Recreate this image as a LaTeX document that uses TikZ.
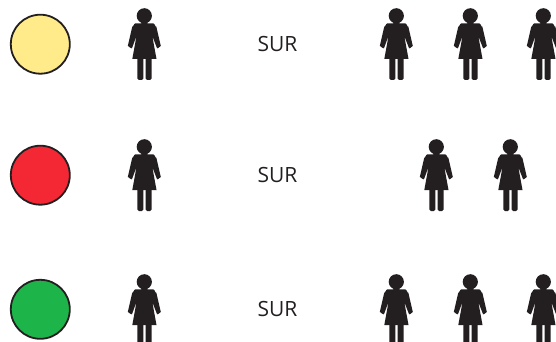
\documentclass[tikz,border=0pt]{standalone}
\usepackage{fontspec}
\setmainfont{Open Sans}
\usepackage{xcolor}
\usetikzlibrary{positioning}
\definecolor{inkblack}{HTML}{231F20}
\definecolor{dotyellow}{HTML}{FFEB8A}
\definecolor{dotred}{HTML}{F42735}
\definecolor{dotgreen}{HTML}{1DB54A}

\begin{document}
\begin{tikzpicture}[x=1pt,y=-1pt,
    dot/.style={draw=inkblack, line width=1.8pt, circle, inner sep=0pt, minimum size=59pt},
    label/.style={text=inkblack, font=\fontsize{21}{23}\selectfont, inner sep=0pt},
    woman/.pic={
        \fill[inkblack] (0,15.8) circle (7.6);
        % dress with arms
        \fill[inkblack] (-3,22) -- (3,22) -- (3,23.4) -- (9,23.4) to[out=0,in=-120] (12,26.5) -- (16.5,46) to[out=60,in=0] (12.8,48.4) -- (8,36)
            -- (12.2,59) -- (-12,59) -- (-7.8,36) -- (-12.4,48.4) to[out=180,in=120] (-16.5,46) -- (-12,26.5) to[out=-60,in=180] (-9,23.4) -- (-3,23.4) -- cycle;
        \fill[inkblack, rounded corners=1.5pt] (-6.9,56) rectangle (-0.9,80);
        \fill[inkblack, rounded corners=1.5pt] (1.2,56) rectangle (7.2,80);
    }
]
    \clip (0,0) rectangle (556,342);

    \node[dot, fill=dotyellow] (dotA) at (40.3,44.2) {};
    \node[dot, fill=dotred] (dotB) at (40.3,175.2) {};
    \node[dot, fill=dotgreen] (dotC) at (40.3,309.3) {};

    \node[label] (surA) at (277.5,44.5) {SUR};
    \node[label] (surB) at (277.5,174.5) {SUR};
    \node[label] (surC) at (277.5,309) {SUR};

    \foreach \x/\y in {144.3/0, 396.3/0, 470.3/0, 543.3/0, 144.3/131, 436.3/131, 510.3/131, 144.3/266, 396.3/266, 470.3/266, 543.3/266} {
        \pic at (\x,\y) {woman};
    }
\end{tikzpicture}
\end{document}
